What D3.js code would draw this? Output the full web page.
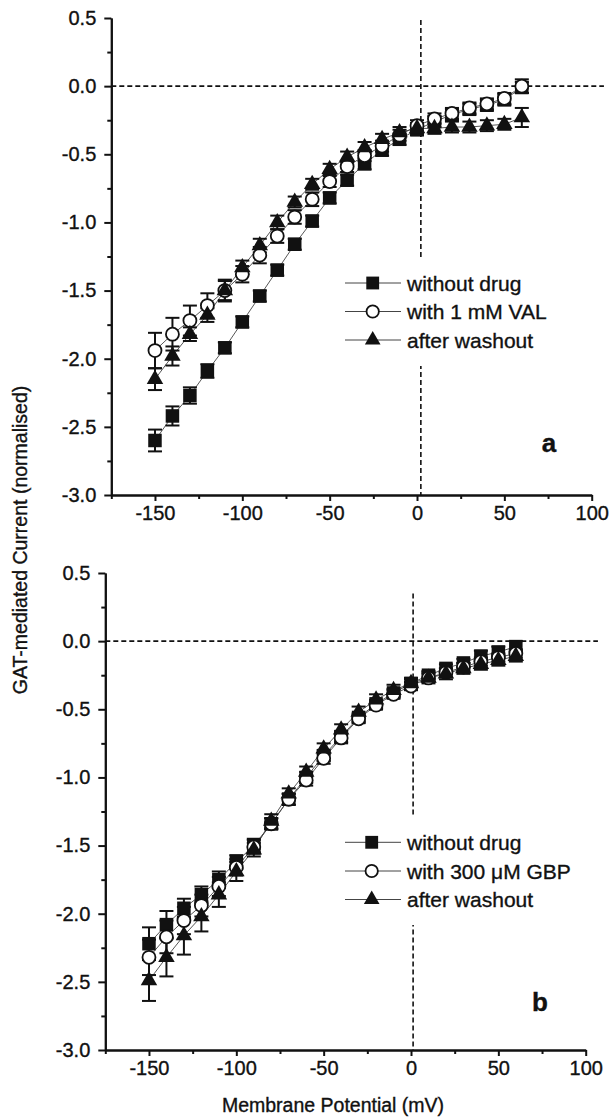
<!DOCTYPE html>
<html>
<head>
<meta charset="utf-8">
<script src="https://cdn.jsdelivr.net/npm/d3@7"></script>
<style>
  html, body { margin: 0; padding: 0; background: #fff; }
  svg { display: block; font-family: "Liberation Sans", Arial, Helvetica, sans-serif; }
  svg text { stroke: #111; stroke-width: 0.35px; }
</style>
</head>
<body>
<svg id="chart" width="615" height="1119"></svg>
<script>
// Membrane potentials of the voltage steps (mV)
const potentials = [-150, -140, -130, -120, -110, -100, -90, -80, -70, -60, -50, -40, -30, -20, -10, 0, 10, 20, 30, 40, 50, 60];

// Panel a: valproate (normalised GAT-mediated current, mean and SEM)
const valControl = [-2.60, -2.42, -2.27, -2.09, -1.92, -1.73, -1.54, -1.35, -1.16, -0.99, -0.82, -0.69, -0.57, -0.47, -0.39, -0.32, -0.26, -0.21, -0.17, -0.14, -0.10, -0.01];
const valControlSem = [0.08, 0.07, 0.06, 0.05, 0.04, 0.04, 0.04, 0.04, 0.04, 0.04, 0.04, 0.04, 0.04, 0.04, 0.04, 0.04, 0.04, 0.04, 0.04, 0.04, 0.04, 0.04];
const valDrug = [-1.94, -1.82, -1.72, -1.61, -1.50, -1.38, -1.24, -1.10, -0.96, -0.83, -0.70, -0.59, -0.51, -0.44, -0.36, -0.29, -0.24, -0.20, -0.16, -0.13, -0.09, 0.00];
const valDrugSem = [0.13, 0.12, 0.11, 0.09, 0.07, 0.06, 0.06, 0.05, 0.05, 0.05, 0.04, 0.04, 0.04, 0.04, 0.04, 0.04, 0.04, 0.04, 0.04, 0.04, 0.04, 0.05];
const valWashout = [-2.15, -1.98, -1.82, -1.68, -1.50, -1.33, -1.17, -1.00, -0.85, -0.72, -0.61, -0.52, -0.45, -0.39, -0.34, -0.31, -0.31, -0.30, -0.30, -0.29, -0.28, -0.23];
const valWashoutSem = [0.08, 0.07, 0.05, 0.05, 0.08, 0.05, 0.05, 0.05, 0.04, 0.04, 0.04, 0.04, 0.04, 0.04, 0.04, 0.04, 0.04, 0.04, 0.04, 0.04, 0.04, 0.07];

// Panel b: gabapentin
const gbpControl = [-2.22, -2.08, -1.96, -1.86, -1.75, -1.62, -1.50, -1.34, -1.16, -1.00, -0.84, -0.70, -0.56, -0.46, -0.38, -0.31, -0.25, -0.20, -0.16, -0.11, -0.08, -0.04];
const gbpControlSem = [0.12, 0.10, 0.07, 0.06, 0.06, 0.05, 0.05, 0.04, 0.04, 0.04, 0.04, 0.04, 0.03, 0.03, 0.03, 0.03, 0.03, 0.03, 0.03, 0.04, 0.04, 0.04];
const gbpDrug = [-2.32, -2.17, -2.05, -1.94, -1.80, -1.66, -1.51, -1.34, -1.16, -1.02, -0.86, -0.71, -0.57, -0.47, -0.39, -0.33, -0.27, -0.23, -0.19, -0.15, -0.12, -0.09];
const gbpDrugSem = [0.13, 0.12, 0.10, 0.08, 0.07, 0.06, 0.05, 0.04, 0.04, 0.04, 0.04, 0.04, 0.03, 0.03, 0.03, 0.03, 0.03, 0.03, 0.03, 0.03, 0.03, 0.03];
const gbpWashout = [-2.49, -2.32, -2.16, -2.02, -1.86, -1.69, -1.53, -1.32, -1.12, -0.96, -0.79, -0.65, -0.52, -0.43, -0.36, -0.31, -0.27, -0.24, -0.20, -0.17, -0.14, -0.11];
const gbpWashoutSem = [0.15, 0.14, 0.14, 0.11, 0.09, 0.07, 0.05, 0.05, 0.04, 0.04, 0.04, 0.04, 0.04, 0.04, 0.04, 0.04, 0.04, 0.04, 0.04, 0.04, 0.04, 0.04];

// Legend entries and axis ticks
const valLegend = ["without drug", "with 1 mM VAL", "after washout"];
const gbpLegend = ["without drug", "with 300 \u03bcM GBP", "after washout"];
const xTickValues = [-150, -100, -50, 0, 50, 100];
const xTickLabels = ["-150", "-100", "-50", "0", "50", "100"];
const xMinorTicks = [-175, -125, -75, -25, 25, 75];
const yTickValues = [0.5, 0.0, -0.5, -1.0, -1.5, -2.0, -2.5, -3.0];
const yTickLabels = ["0.5", "0.0", "-0.5", "-1.0", "-1.5", "-2.0", "-2.5", "-3.0"];
const yMinorTicks = [0.25, -0.25, -0.75, -1.25, -1.75, -2.25, -2.75];

const svg = d3.select("#chart");
const INK = "#111";

function drawPanel(p) {
  const x = d3.scaleLinear().domain([-175, 100]).range([p.left, p.right]);
  const y = d3.scaleLinear().domain([-3, 0.5]).range([p.bottom, p.top]);
  const g = svg.append("g");

  // dashed zero lines
  g.append("line")
    .attr("x1", x(-175)).attr("x2", x(107))
    .attr("y1", y(0)).attr("y2", y(0))
    .attr("stroke", INK).attr("stroke-width", 1.6).attr("stroke-dasharray", "5,3");
  g.append("line")
    .attr("x1", x(p.vLineMv)).attr("x2", x(p.vLineMv))
    .attr("y1", y(p.vLineTop)).attr("y2", y(-3))
    .attr("stroke", INK).attr("stroke-width", 1.6).attr("stroke-dasharray", "5,3");

  const series = [
    { values: p.series[0], sem: p.sem[0], shape: "square" },
    { values: p.series[1], sem: p.sem[1], shape: "circle" },
    { values: p.series[2], sem: p.sem[2], shape: "triangle" }
  ];

  // connecting lines
  const line = d3.line().x((d, i) => x(potentials[i])).y(d => y(d));
  series.forEach(s => {
    g.append("path").attr("d", line(s.values))
      .attr("fill", "none").attr("stroke", "#444").attr("stroke-width", 0.9);
  });

  // error bars
  const cap = 7;
  series.forEach(s => {
    const eb = g.append("g").attr("stroke", INK).attr("stroke-width", 2);
    s.values.forEach((v, i) => {
      const cx = x(potentials[i]);
      const y1 = y(v + s.sem[i]), y2 = y(v - s.sem[i]);
      eb.append("line").attr("x1", cx).attr("x2", cx).attr("y1", y1).attr("y2", y2);
      eb.append("line").attr("x1", cx - cap).attr("x2", cx + cap).attr("y1", y1).attr("y2", y1);
      eb.append("line").attr("x1", cx - cap).attr("x2", cx + cap).attr("y1", y2).attr("y2", y2);
    });
  });

  // markers
  series.forEach(s => {
    s.values.forEach((v, i) => {
      drawMarker(g, s.shape, x(potentials[i]), y(v), 1);
    });
  });

  // legend
  const lg = g.append("g");
  lg.append("rect")
    .attr("x", p.legend.boxX).attr("y", p.legend.boxTop)
    .attr("width", p.legend.boxW).attr("height", p.legend.boxBottom - p.legend.boxTop)
    .attr("fill", "#fff");
  p.legend.labels.forEach((lab, i) => {
    const ly = p.legend.rows[i];
    lg.append("line")
      .attr("x1", p.legend.lineX0).attr("x2", p.legend.lineX1)
      .attr("y1", ly).attr("y2", ly)
      .attr("stroke", "#444").attr("stroke-width", 1);
    drawMarker(lg, series[i].shape, p.legend.markerX, ly, 0.95);
    lg.append("text")
      .attr("x", p.legend.textX).attr("y", ly).attr("dy", "0.36em")
      .attr("font-size", 21).attr("fill", INK).text(lab);
  });

  // axes
  const xAxis = d3.axisBottom(x).tickValues(xTickValues)
    .tickFormat((d, i) => xTickLabels[i]).tickSize(6).tickSizeOuter(0).tickPadding(5);
  const xMinor = d3.axisBottom(x).tickValues(xMinorTicks).tickFormat("").tickSize(4).tickSizeOuter(0);
  const yAxis = d3.axisLeft(y).tickValues(yTickValues)
    .tickFormat((d, i) => yTickLabels[i]).tickSize(7).tickSizeOuter(0).tickPadding(8);
  const yMinor = d3.axisLeft(y).tickValues(yMinorTicks).tickFormat("").tickSize(4).tickSizeOuter(0);

  [[xAxis, "x"], [xMinor, "x"], [yAxis, "y"], [yMinor, "y"]].forEach(([ax, dir]) => {
    const a = g.append("g")
      .attr("transform", dir === "x" ? `translate(0,${p.bottom})` : `translate(${p.left},0)`)
      .call(ax);
    a.selectAll(".domain").attr("stroke", INK).attr("stroke-width", 2);
    a.selectAll(".tick line").attr("stroke", INK).attr("stroke-width", 2);
    a.selectAll(".tick text").attr("fill", INK).attr("font-size", 20)
      .attr("font-family", '"Liberation Sans", Arial, sans-serif');
  });

  // panel letter
  g.append("text").attr("x", p.letterX).attr("y", p.letterY)
    .attr("font-size", 26).attr("font-weight", "bold").attr("text-anchor", "middle")
    .attr("fill", INK).text(p.letter);
}

function drawMarker(g, shape, cx, cy, k) {
  if (shape === "square") {
    const s = 13.5 * k;
    g.append("rect").attr("x", cx - s / 2).attr("y", cy - s / 2)
      .attr("width", s).attr("height", s).attr("fill", INK);
  } else if (shape === "circle") {
    g.append("circle").attr("cx", cx).attr("cy", cy).attr("r", 6.5 * k)
      .attr("fill", "#fff").attr("stroke", INK).attr("stroke-width", 1.8);
  } else {
    const side = 16.5 * k;
    const sym = d3.symbol().type(d3.symbolTriangle).size(Math.sqrt(3) / 4 * side * side);
    g.append("path").attr("d", sym()).attr("transform", `translate(${cx},${cy})`)
      .attr("fill", INK);
  }
}

drawPanel({
  left: 111.3, right: 591.7, top: 18, bottom: 495,
  vLineMv: 2.2, vLineTop: 0.485,
  series: [valControl, valDrug, valWashout],
  sem: [valControlSem, valDrugSem, valWashoutSem],
  legend: { labels: valLegend, rows: [283, 311.5, 340], markerX: 372.7, lineX0: 345, lineX1: 401,
            textX: 407, boxX: 340, boxW: 215, boxTop: 257, boxBottom: 366 },
  letter: "a", letterX: 549, letterY: 452
});

drawPanel({
  left: 105.3, right: 585.7, top: 573, bottom: 1050,
  vLineMv: 1.2, vLineTop: 0.35,
  series: [gbpControl, gbpDrug, gbpWashout],
  sem: [gbpControlSem, gbpDrugSem, gbpWashoutSem],
  legend: { labels: gbpLegend, rows: [842.3, 871, 899.5], markerX: 371.7, lineX0: 345, lineX1: 401,
            textX: 407, boxX: 340, boxW: 225, boxTop: 817, boxBottom: 925 },
  letter: "b", letterX: 540, letterY: 1011
});

// shared axis titles
svg.append("text")
  .attr("transform", "translate(27,540) rotate(-90)")
  .attr("text-anchor", "middle").attr("font-size", 19.5).attr("fill", INK)
  .text("GAT-mediated Current (normalised)");
svg.append("text")
  .attr("x", 333).attr("y", 1112)
  .attr("text-anchor", "middle").attr("font-size", 19.5).attr("fill", INK)
  .text("Membrane Potential (mV)");
</script>
</body>
</html>
